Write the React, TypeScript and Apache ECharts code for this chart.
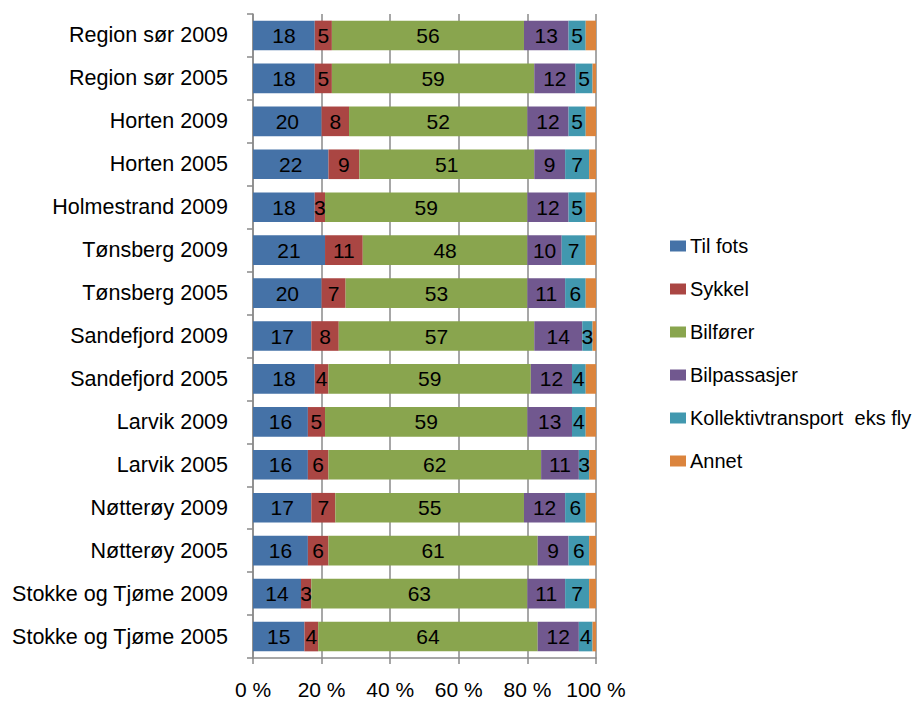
import React, { useEffect, useRef } from "react";
import * as echarts from "echarts";

const categories = [
  "Region sør 2009",
  "Region sør 2005",
  "Horten 2009",
  "Horten 2005",
  "Holmestrand 2009",
  "Tønsberg 2009",
  "Tønsberg 2005",
  "Sandefjord 2009",
  "Sandefjord 2005",
  "Larvik 2009",
  "Larvik 2005",
  "Nøtterøy 2009",
  "Nøtterøy 2005",
  "Stokke og Tjøme 2009",
  "Stokke og Tjøme 2005",
];

const tilFots = [18, 18, 20, 22, 18, 21, 20, 17, 18, 16, 16, 17, 16, 14, 15];
const sykkel = [5, 5, 8, 9, 3, 11, 7, 8, 4, 5, 6, 7, 6, 3, 4];
const bilforer = [56, 59, 52, 51, 59, 48, 53, 57, 59, 59, 62, 55, 61, 63, 64];
const bilpassasjer = [13, 12, 12, 9, 12, 10, 11, 14, 12, 13, 11, 12, 9, 11, 12];
const kollektiv = [5, 5, 5, 7, 5, 7, 6, 3, 4, 4, 3, 6, 6, 7, 4];
const annet = [3, 1, 3, 2, 3, 3, 3, 1, 3, 3, 2, 3, 2, 2, 1];

const xTicks = ["0 %", "20 %", "40 %", "60 %", "80 %", "100 %"];

const seriesDefs = [
  { name: "Til fots", data: tilFots, color: "#4572A7", label: true },
  { name: "Sykkel", data: sykkel, color: "#AA4643", label: true },
  { name: "Bilfører", data: bilforer, color: "#89A54E", label: true },
  { name: "Bilpassasjer", data: bilpassasjer, color: "#71588F", label: true },
  { name: "Kollektivtransport  eks fly", data: kollektiv, color: "#4198AF", label: true },
  { name: "Annet", data: annet, color: "#DB843D", label: false },
];

const FONT = "'Liberation Sans', Arial, sans-serif";

export default function App() {
  const ref = useRef<HTMLDivElement>(null);
  useEffect(() => {
    if (!ref.current) return;
    const chart = echarts.init(ref.current, undefined, { renderer: "svg" });
    chart.setOption({
      animation: false,
      textStyle: { fontFamily: FONT },
      legend: {
        orient: "vertical",
        left: 657,
        top: 223,
        itemWidth: 16,
        itemHeight: 11,
        itemGap: 23,
        icon: "rect",
        textStyle: { fontSize: 20, color: "#000", fontFamily: FONT, padding: [0, 0, 0, -1] },
        data: seriesDefs.map((s) => s.name),
      },
      grid: { left: 245, right: 320, top: 6, bottom: 37, containLabel: false },
      xAxis: {
        type: "value",
        min: 0,
        max: 100,
        interval: 20,
        axisLine: { show: true, lineStyle: { color: "#8a8a8a", width: 1.5 } },
        axisTick: { show: true, length: 6, lineStyle: { color: "#8a8a8a", width: 1.5 } },
        splitLine: { show: true, lineStyle: { color: "#8a8a8a", width: 1.5 } },
        axisLabel: {
          fontSize: 21,
          color: "#000",
          fontFamily: FONT,
          margin: 21,
          formatter: (v: number) => xTicks[Math.round(v / 20)],
        },
      },
      yAxis: {
        type: "category",
        inverse: true,
        data: categories,
        axisLine: { show: true, lineStyle: { color: "#8a8a8a", width: 1.5 } },
        axisTick: { show: true, length: 6, lineStyle: { color: "#8a8a8a", width: 1.5 } },
        axisLabel: { fontSize: 21.5, color: "#000", fontFamily: FONT, margin: 25 },
      },
      series: seriesDefs.map((s) => ({
        name: s.name,
        type: "bar",
        stack: "total",
        data: s.data,
        barCategoryGap: "31%",
        itemStyle: { color: s.color },
        label: {
          show: s.label,
          position: "inside",
          color: "#000",
          fontSize: 21,
          fontFamily: FONT,
        },
        emphasis: { disabled: true },
      })),
    });
    return () => chart.dispose();
  }, []);
  return <div ref={ref} style={{ width: 908, height: 692 }} />;
}
